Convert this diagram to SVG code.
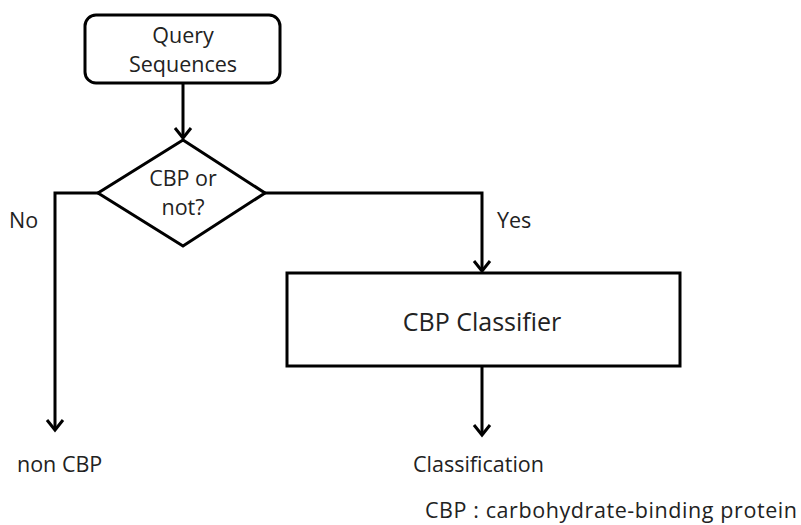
<svg xmlns="http://www.w3.org/2000/svg" width="801" height="525" viewBox="0 0 801 525">
<defs>
<marker id="arr" viewBox="0 0 20 20" refX="17" refY="10" markerWidth="20" markerHeight="20" markerUnits="userSpaceOnUse" orient="auto">
<path d="M7,2 L17,10 L7,18" fill="none" stroke="#000" stroke-width="3"/>
</marker>
<style>
.shape{fill:#fff;stroke:#000;stroke-width:3}
.conn{fill:none;stroke:#000;stroke-width:3}
text{font-family:"Open Sans","Liberation Sans",sans-serif;fill:#222;font-size:21.5px}
</style>
</defs>
<rect width="801" height="525" fill="#fff"/>
<g id="connectors">
<path class="conn" d="M183,83 L183,138" marker-end="url(#arr)"/>
<path class="conn" d="M98,193 L55,193 L55,430" marker-end="url(#arr)"/>
<path class="conn" d="M265,193 L482,193 L482,271" marker-end="url(#arr)"/>
<path class="conn" d="M482,366 L482,435" marker-end="url(#arr)"/>
</g>
<g id="query">
<rect class="shape" x="85" y="15" width="195" height="68" rx="11"/>
<text x="183" y="43" text-anchor="middle">Query</text>
<text x="183" y="72" text-anchor="middle">Sequences</text>
</g>
<g id="decision">
<polygon class="shape" points="183,140 265,193 183,246 98,193"/>
<text x="183" y="186" text-anchor="middle">CBP or</text>
<text x="183" y="215" text-anchor="middle">not?</text>
</g>
<g id="classifier">
<rect class="shape" x="287" y="273" width="393" height="93"/>
<text x="482" y="331" text-anchor="middle" style="font-size:25px">CBP Classifier</text>
</g>
<g id="labels">
<text x="9" y="228">No</text>
<text x="497" y="228">Yes</text>
<text x="17" y="472">non CBP</text>
<text x="413" y="472">Classification</text>
<text x="425" y="518" textLength="372">CBP : carbohydrate-binding protein</text>
</g>
</svg>
